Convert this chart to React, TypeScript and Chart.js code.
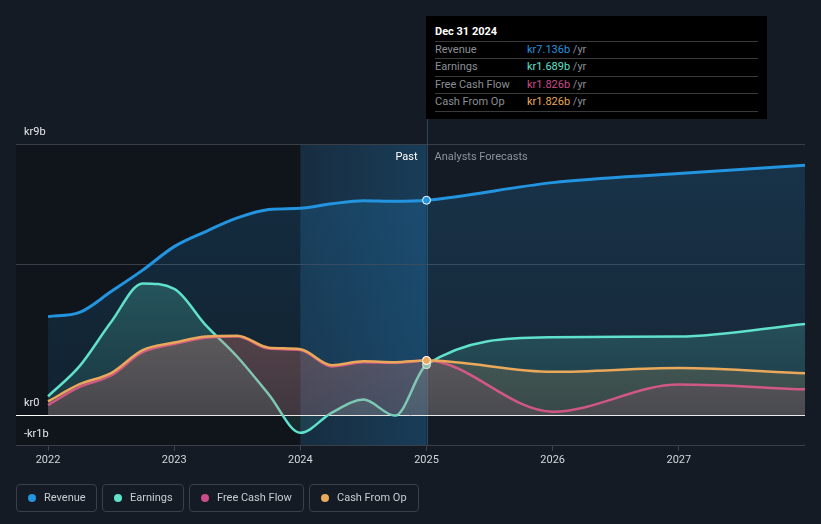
import React, { useEffect, useRef } from "react";
import { Chart, registerables } from "chart.js";

Chart.register(...registerables);

// ---- data ----
const periods = [
  2022, 2022.25, 2022.5, 2022.75, 2023, 2023.25, 2023.5, 2023.75, 2024, 2024.25, 2024.5, 2024.75, 2025,
  2026, 2027, 2028,
];
const revenue = [3.28, 3.42, 4.11, 4.82, 5.6, 6.1, 6.55, 6.83, 6.87, 7.02, 7.12, 7.1, 7.136, 7.72, 8.02, 8.3];
const earnings = [0.64, 1.64, 3.1, 4.38, 4.2, 3.0, 1.95, 0.7, -0.57, 0.1, 0.53, 0.0, 1.689, 2.6, 2.62, 3.04];
const freeCashFlow = [0.35, 0.95, 1.33, 2.1, 2.37, 2.58, 2.62, 2.22, 2.17, 1.63, 1.77, 1.75, 1.826, 0.13, 1.03, 0.87];
const cashFromOp = [0.47, 1.04, 1.41, 2.17, 2.42, 2.62, 2.65, 2.25, 2.2, 1.67, 1.8, 1.77, 1.826, 1.45, 1.58, 1.4];

const yearTicks = [2022, 2023, 2024, 2025, 2026, 2027];
const yTicks = [-1, 0, 5, 9];
const yTickLabels: Record<string, string> = { "-1": "-kr1b", "0": "kr0", "9": "kr9b" };
const nowIndex = 12;
const nowLabel = "Dec 31 2024";
const pastStart = 2024;
const xMin = 2021.746;
const xMax = 2028;

const seriesNames = ["Revenue", "Earnings", "Free Cash Flow", "Cash From Op"];
const seriesColors = ["#2394df", "#5fe1cb", "#cc4b8a", "#e9a85a"];
const seriesValues = [revenue, earnings, freeCashFlow, cashFromOp];

const BG = "#151b24";
const FONT = "Roboto, 'Noto Sans', sans-serif";

function rgba(hex: string, a: number) {
  const n = parseInt(hex.slice(1), 16);
  return `rgba(${(n >> 16) & 255},${(n >> 8) & 255},${n & 255},${a})`;
}

export default function App() {
  const ref = useRef<HTMLCanvasElement>(null);

  useEffect(() => {
    const canvas = ref.current!;

    const bgPlugin = {
      id: "bgRegions",
      beforeDraw(chart: any) {
        const { ctx, chartArea: a, scales } = chart;
        const x = scales.x;
        ctx.save();
        ctx.fillStyle = BG;
        ctx.fillRect(0, 0, chart.width, chart.height);
        const x0 = x.getPixelForValue(pastStart);
        const x1 = x.getPixelForValue(periods[nowIndex]);
        ctx.fillStyle = "rgba(0,0,0,0.22)";
        ctx.fillRect(a.left, a.top, x0 - a.left, a.bottom - a.top);
        const g = ctx.createLinearGradient(x0, 0, x1, 0);
        g.addColorStop(0, "rgba(35,148,223,0.15)");
        g.addColorStop(1, "rgba(35,148,223,0.28)");
        ctx.fillStyle = g;
        ctx.fillRect(x0, a.top, x1 - x0, a.bottom - a.top);
        ctx.strokeStyle = "#2b4760";
        ctx.lineWidth = 1;
        ctx.beginPath();
        ctx.moveTo(Math.round(x1) + 0.5, 16);
        ctx.lineTo(Math.round(x1) + 0.5, a.bottom);
        ctx.stroke();
        ctx.restore();
      },
      afterDraw(chart: any) {
        const { ctx, scales } = chart;
        const x1 = scales.x.getPixelForValue(periods[nowIndex]);
        ctx.save();
        ctx.font = `11px ${FONT}`;
        ctx.textBaseline = "middle";
        ctx.textAlign = "right";
        ctx.fillStyle = "#ffffff";
        ctx.fillText("Past", x1 - 9, 157);
        ctx.textAlign = "left";
        ctx.fillStyle = "#8d939c";
        ctx.fillText("Analysts Forecasts", x1 + 8, 157);
        ctx.restore();
      },
    };

    const gradFill = (color: string, top: number, bottom: number) => (c: any) => {
      const chart = c.chart;
      if (!chart.chartArea) return rgba(color, top);
      const y = chart.scales.y;
      const g = chart.ctx.createLinearGradient(0, y.getPixelForValue(9), 0, y.getPixelForValue(0));
      g.addColorStop(0, rgba(color, top));
      g.addColorStop(1, rgba(color, bottom));
      return g;
    };

    const fillAlpha = [
      [0.2, 0.1],
      [0.38, 0.1],
      [0.3, 0.12],
      [0.3, 0.12],
    ];
    const widths = [3, 2.5, 2.5, 2.5];
    const orders = [3, 2, 1, 0];

    const datasets = seriesNames.map((name, i) => ({
      label: name,
      data: periods.map((p, k) => ({ x: p, y: seriesValues[i][k] })),
      borderColor: seriesColors[i],
      backgroundColor: gradFill(seriesColors[i], fillAlpha[i][0], fillAlpha[i][1]),
      borderWidth: widths[i],
      fill: "origin",
      cubicInterpolationMode: "monotone" as const,
      pointRadius: (c: any) => (c.dataIndex === nowIndex ? 4 : 0),
      pointHoverRadius: 0,
      pointBackgroundColor: seriesColors[i],
      pointBorderColor: "#ffffff",
      pointBorderWidth: 1,
      order: orders[i],
    }));

    const chart = new Chart(canvas, {
      type: "line",
      data: { datasets },
      plugins: [bgPlugin],
      options: {
        responsive: false,
        animation: false,
        devicePixelRatio: 1,
        layout: { padding: { top: 144, left: 0, right: 16, bottom: 54 } },
        plugins: { legend: { display: false }, tooltip: { enabled: false } },
        scales: {
          x: {
            type: "linear",
            min: xMin,
            max: xMax,
            afterBuildTicks: (s: any) => {
              s.ticks = yearTicks.map((v) => ({ value: v }));
            },
            ticks: {
              color: "#d3d7dd",
              font: { size: 11, family: FONT },
              padding: 3,
              maxRotation: 0,
              callback: (v: any) => String(v),
            },
            grid: { drawOnChartArea: false, drawTicks: true, tickLength: 5, color: "#3d424b" },
            border: { display: false },
          },
          y: {
            type: "linear",
            min: -1,
            max: 9,
            afterBuildTicks: (s: any) => {
              s.ticks = yTicks.map((v) => ({ value: v }));
            },
            ticks: {
              mirror: true,
              padding: 8,
              labelOffset: -12,
              color: "#e6e8eb",
              font: { size: 11, family: FONT },
              callback: (v: any) => yTickLabels[String(v)] ?? "",
            },
            grid: {
              drawTicks: false,
              color: (c: any) => (c.tick && c.tick.value === 0 ? "#ffffff" : "#3a3f49"),
              lineWidth: 1,
            },
            border: { display: false },
          },
        },
      },
    } as any);

    return () => chart.destroy();
  }, []);

  const legendWidths = [81, 82, 115, 110];

  return (
    <div
      style={{
        position: "fixed",
        left: 0,
        top: 0,
        width: 821,
        height: 524,
        background: BG,
        fontFamily: FONT,
        overflow: "hidden",
      }}
    >
      <canvas ref={ref} width={821} height={524} style={{ position: "absolute", left: 0, top: 0, width: 821, height: 524 }} />

      {/* tooltip box */}
      <div style={{ position: "absolute", left: 426, top: 16, width: 341, height: 103, background: "#000000" }}>
        <div
          style={{
            position: "absolute",
            left: 9,
            top: 9,
            color: "#ffffff",
            fontWeight: 700,
            fontSize: 11,
            lineHeight: "14px",
            whiteSpace: "nowrap",
          }}
        >
          {nowLabel}
        </div>
        {[25, 42, 60, 77, 95].map((t, i) => (
          <div key={"s" + i} style={{ position: "absolute", left: 9, top: t, width: 323, height: 1, background: "#3a3a3a" }} />
        ))}
        {seriesNames.map((name, i) => (
          <React.Fragment key={name}>
            <div
              style={{
                position: "absolute",
                left: 9,
                top: [26, 43, 61, 78][i],
                color: "#8a8f97",
                fontSize: 11,
                lineHeight: "16px",
                whiteSpace: "nowrap",
              }}
            >
              {name}
            </div>
            <div
              style={{
                position: "absolute",
                left: 101,
                top: [26, 43, 61, 78][i],
                fontSize: 11,
                lineHeight: "16px",
                whiteSpace: "nowrap",
              }}
            >
              <span style={{ color: seriesColors[i] }}>{`kr${seriesValues[i][nowIndex].toFixed(3)}b`}</span>
              <span style={{ color: "#8a8f97" }}> /yr</span>
            </div>
          </React.Fragment>
        ))}
      </div>

      {/* legend */}
      <div style={{ position: "absolute", left: 16, top: 484, display: "flex", gap: 5 }}>
        {seriesNames.map((name, i) => (
          <div
            key={name}
            style={{
              position: "relative",
              boxSizing: "border-box",
              width: legendWidths[i],
              height: 28,
              border: "1px solid #3a3f48",
              borderRadius: 4,
            }}
          >
            <div
              style={{
                position: "absolute",
                left: 11,
                top: 9,
                width: 8,
                height: 8,
                borderRadius: 4,
                background: seriesColors[i],
              }}
            />
            <div
              style={{
                position: "absolute",
                left: 27,
                top: 5,
                fontSize: 11,
                lineHeight: "16px",
                color: "#c9cdd3",
                whiteSpace: "nowrap",
              }}
            >
              {name}
            </div>
          </div>
        ))}
      </div>
    </div>
  );
}
